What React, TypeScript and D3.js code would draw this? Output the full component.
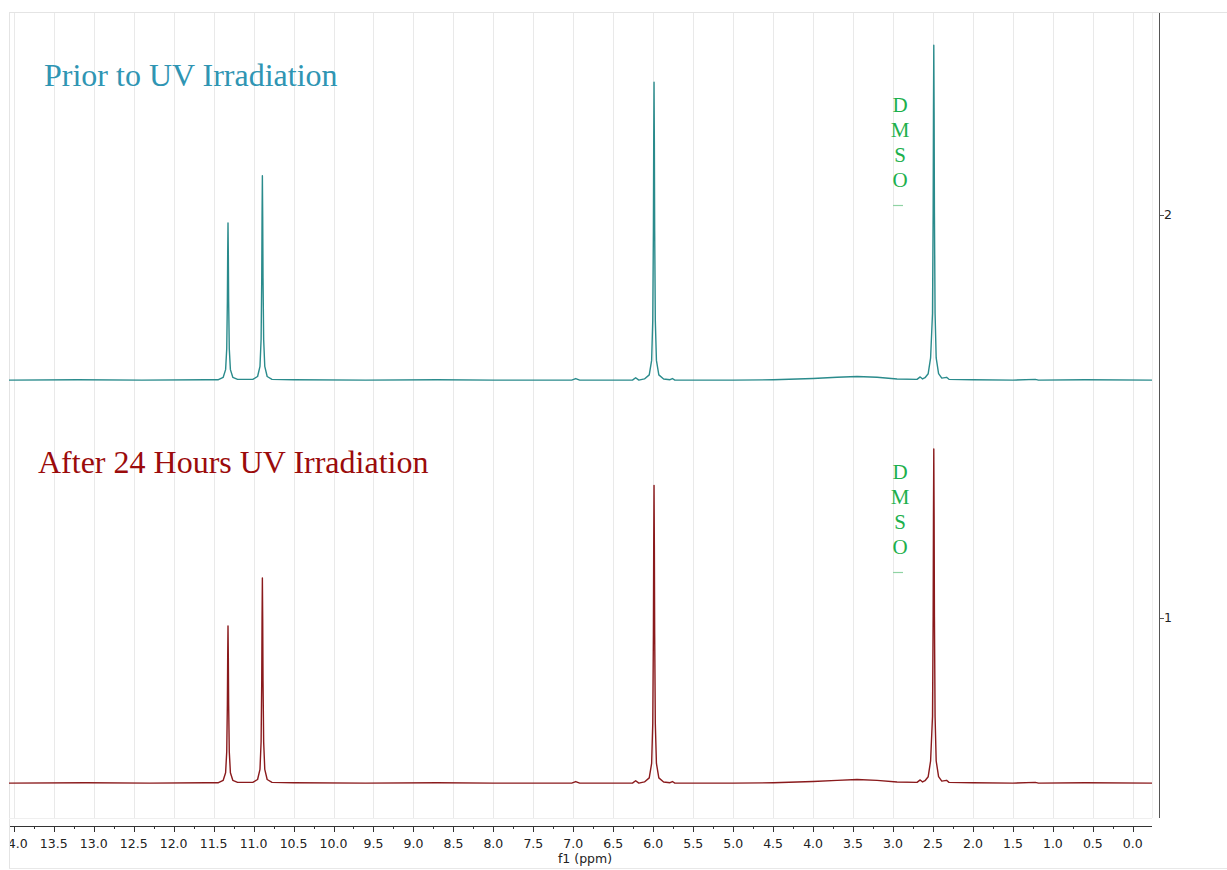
import React from "react";
import * as d3 from "d3";

// ---------- data ----------
const ppmTicks: number[] = [14, 13.5, 13, 12.5, 12, 11.5, 11, 10.5, 10, 9.5, 9, 8.5, 8, 7.5, 7, 6.5, 6, 5.5, 5, 4.5, 4, 3.5, 3, 2.5, 2, 1.5, 1, 0.5, 0];
const ppmMinorTicks: number[] = [13.75, 13.25, 12.75, 12.25, 11.75, 11.25, 10.75, 10.25, 9.75, 9.25, 8.75, 8.25, 7.75, 7.25, 6.75, 6.25, 5.75, 5.25, 4.75, 4.25, 3.75, 3.25, 2.75, 2.25, 1.75, 1.25, 0.75, 0.25];
const intensityTicks: number[] = [1, 2];
const seriesNames: string[] = ["Prior to UV Irradiation", "After 24 Hours UV Irradiation"];
const seriesOffsets: number[] = [1.59, 0.59];

// [ppm, intensity above own baseline]
const priorSpectrum: [number, number][] = [
  [14.06, 0.0], [13.2, 0.001], [12.4, 0.0], [11.6, 0.001], [11.44, 0.001],
  [11.38, 0.007], [11.35, 0.026], [11.336, 0.078], [11.328, 0.195], [11.324, 0.312],
  [11.32, 0.39], [11.316, 0.312], [11.312, 0.195], [11.304, 0.078], [11.29, 0.026],
  [11.26, 0.007], [11.2, 0.002], [11.01, 0.002], [10.95, 0.009], [10.92, 0.034],
  [10.906, 0.101], [10.898, 0.254], [10.894, 0.406], [10.89, 0.507], [10.886, 0.406],
  [10.882, 0.254], [10.874, 0.101], [10.86, 0.034], [10.83, 0.009], [10.77, 0.002],
  [10.5, 0.001], [9.6, 0.0], [8.7, 0.001], [8.0, 0.0], [7.02, 0.0], [6.97, 0.004],
  [6.92, 0.0], [6.26, 0.0], [6.22, 0.006], [6.18, 0.0], [6.11, 0.003], [6.05, 0.013],
  [6.02, 0.049], [6.006, 0.148], [5.998, 0.37], [5.994, 0.591], [5.99, 0.739],
  [5.986, 0.591], [5.982, 0.37], [5.974, 0.148], [5.96, 0.049], [5.93, 0.013],
  [5.87, 0.003], [5.79, 0.001], [5.76, 0.004], [5.73, 0.0], [5.0, 0.0], [4.5, 0.001],
  [4.0, 0.004], [3.7, 0.007], [3.45, 0.009], [3.2, 0.007], [2.95, 0.003], [2.7, 0.002],
  [2.66, 0.008], [2.63, 0.003], [2.6, 0.006], [2.56, 0.016], [2.53, 0.055],
  [2.506, 0.166], [2.498, 0.415], [2.494, 0.664], [2.49, 0.831], [2.486, 0.664],
  [2.482, 0.415], [2.474, 0.166], [2.46, 0.055], [2.43, 0.016], [2.39, 0.005],
  [2.33, 0.007], [2.3, 0.002], [2.0, 0.001], [1.5, 0.0], [1.22, 0.002], [1.18, 0.0],
  [0.6, 0.001], [-0.24, 0.0],
];

const afterSpectrum: [number, number][] = [
  [14.06, 0.0], [13.1, 0.001], [12.3, 0.0], [11.6, 0.001], [11.44, 0.001],
  [11.38, 0.007], [11.35, 0.026], [11.336, 0.078], [11.328, 0.195], [11.324, 0.312],
  [11.32, 0.39], [11.316, 0.312], [11.312, 0.195], [11.304, 0.078], [11.29, 0.026],
  [11.26, 0.007], [11.2, 0.002], [11.01, 0.002], [10.95, 0.009], [10.92, 0.034],
  [10.906, 0.102], [10.898, 0.255], [10.894, 0.408], [10.89, 0.509], [10.886, 0.408],
  [10.882, 0.255], [10.874, 0.102], [10.86, 0.034], [10.83, 0.009], [10.77, 0.002],
  [10.5, 0.001], [9.6, 0.0], [8.7, 0.001], [8.0, 0.0], [7.02, 0.0], [6.97, 0.004],
  [6.92, 0.0], [6.26, 0.0], [6.22, 0.006], [6.18, 0.0], [6.11, 0.003], [6.05, 0.013],
  [6.02, 0.049], [6.006, 0.148], [5.998, 0.37], [5.994, 0.591], [5.99, 0.739],
  [5.986, 0.591], [5.982, 0.37], [5.974, 0.148], [5.96, 0.049], [5.93, 0.013],
  [5.87, 0.003], [5.79, 0.001], [5.76, 0.004], [5.73, 0.0], [5.0, 0.0], [4.5, 0.001],
  [4.0, 0.004], [3.7, 0.007], [3.45, 0.009], [3.2, 0.007], [2.95, 0.003], [2.7, 0.002],
  [2.66, 0.008], [2.63, 0.003], [2.6, 0.006], [2.56, 0.016], [2.53, 0.055],
  [2.506, 0.166], [2.498, 0.414], [2.494, 0.663], [2.49, 0.829], [2.486, 0.663],
  [2.482, 0.414], [2.474, 0.166], [2.46, 0.055], [2.43, 0.016], [2.39, 0.005],
  [2.33, 0.007], [2.3, 0.002], [2.0, 0.001], [1.5, 0.0], [1.22, 0.002], [1.18, 0.0],
  [0.6, 0.001], [-0.24, 0.0],
];

const dmsoLetters: string[] = ["D", "M", "S", "O"];

// ---------- layout ----------
const W = 1227;
const H = 870;
const plotLeft = 9;
const plotRight = 1152;
const plotTop = 13;
const plotBottom = 818;
const axisY = 826;
const rightAxisX = 1159;

const x = d3.scaleLinear().domain([14.06, -0.24]).range([plotLeft, plotRight]);
const y = d3.scaleLinear().domain([0.506, 2.501]).range([plotBottom - 1, plotTop]);

const colors = ["#2a8b8c", "#8a1a1c"];
const titleColors = ["#2f95b3", "#9b0b0b"];
const dmsoColor = "#1db04c";

function makePath(data: [number, number][], offset: number): string {
  const line = d3
    .line<[number, number]>()
    .x((d) => x(d[0]))
    .y((d) => y(d[1] + offset));
  return line(data) || "";
}

const spectra = [priorSpectrum, afterSpectrum];
const titlePos = [
  { x: 44, y: 86 },
  { x: 38, y: 473 },
];
const dmsoTop = [112, 479];

export default function App() {
  return (
    <svg
      width={W}
      height={H}
      style={{ position: "absolute", left: 0, top: 0, background: "#fff" }}
      xmlns="http://www.w3.org/2000/svg"
    >
      <defs>
        <clipPath id="frameClip">
          <rect x={plotLeft + 1} y={0} width={W - plotLeft} height={H} />
        </clipPath>
      </defs>
      <rect x={0} y={0} width={W} height={H} fill="#fff" />
      {/* outer frame */}
      <line x1={plotLeft + 0.5} x2={plotLeft + 0.5} y1={plotTop} y2={868} stroke="#e4e4e4" />
      <line x1={plotLeft} x2={W} y1={plotTop - 0.5} y2={plotTop - 0.5} stroke="#e4e4e4" />
      <line x1={plotLeft} x2={W} y1={868.5} y2={868.5} stroke="#e8e8e8" />
      {/* grid */}
      {ppmTicks.map((t) => (
        <line
          key={"g" + t}
          x1={Math.round(x(t)) + 0.5}
          x2={Math.round(x(t)) + 0.5}
          y1={plotTop}
          y2={plotBottom}
          stroke="#e9e9e9"
          strokeWidth={1}
        />
      ))}
      <line x1={plotRight + 0.5} x2={plotRight + 0.5} y1={plotTop} y2={plotBottom} stroke="#efefef" />
      <line x1={plotLeft} x2={plotRight} y1={plotBottom + 0.5} y2={plotBottom + 0.5} stroke="#efefef" />

      {/* spectra */}
      {spectra.map((s, i) => (
        <path
          key={"s" + i}
          d={makePath(s, seriesOffsets[i])}
          fill="none"
          stroke={colors[i]}
          strokeWidth={1.4}
          strokeLinejoin="round"
        />
      ))}

      {/* titles */}
      {seriesNames.map((n, i) => (
        <text
          key={"t" + i}
          x={titlePos[i].x}
          y={titlePos[i].y}
          fontFamily="'Liberation Serif', 'Times New Roman', serif"
          fontSize={32}
          fill={titleColors[i]}
        >
          {n}
        </text>
      ))}

      {/* DMSO labels */}
      {dmsoTop.map((top, k) => (
        <g key={"d" + k}>
          {dmsoLetters.map((l, j) => (
            <text
              key={l}
              x={900}
              y={top + j * 25}
              textAnchor="middle"
              fontFamily="'Liberation Serif', 'Times New Roman', serif"
              fontSize={21}
              fill={dmsoColor}
            >
              {l}
            </text>
          ))}
          <line x1={893} x2={903} y1={top + 93.5} y2={top + 93.5} stroke="#8fd3a3" strokeWidth={1.2} />
        </g>
      ))}

      {/* x axis */}
      <g clipPath="url(#frameClip)">
        <line x1={plotLeft} x2={plotRight} y1={axisY + 0.5} y2={axisY + 0.5} stroke="#333" />
        {ppmTicks.map((t) => (
          <line
            key={"mt" + t}
            x1={Math.round(x(t)) + 0.5}
            x2={Math.round(x(t)) + 0.5}
            y1={axisY}
            y2={axisY + 6}
            stroke="#333"
          />
        ))}
        {ppmMinorTicks.map((t) => (
          <line
            key={"nt" + t}
            x1={Math.round(x(t)) + 0.5}
            x2={Math.round(x(t)) + 0.5}
            y1={axisY}
            y2={axisY + 3}
            stroke="#333"
          />
        ))}
        {ppmTicks.map((t) => (
          <text
            key={"lt" + t}
            x={x(t)}
            y={848}
            textAnchor="middle"
            fontFamily="'DejaVu Sans', Verdana, sans-serif"
            fontSize={12.5}
            fill="#222"
          >
            {t.toFixed(1)}
          </text>
        ))}
      </g>
      <text
        x={585}
        y={863}
        textAnchor="middle"
        fontFamily="'DejaVu Sans', Verdana, sans-serif"
        fontSize={12.5}
        fill="#222"
      >
        f1 (ppm)
      </text>

      {/* right axis */}
      <line x1={rightAxisX + 0.5} x2={rightAxisX + 0.5} y1={plotTop} y2={plotBottom} stroke="#555" />
      {intensityTicks.map((t) => (
        <g key={"it" + t}>
          <line
            x1={rightAxisX}
            x2={rightAxisX + 5}
            y1={Math.round(y(t)) + 0.5}
            y2={Math.round(y(t)) + 0.5}
            stroke="#555"
          />
          <text
            x={rightAxisX + 5}
            y={y(t) + 4.5}
            fontFamily="'DejaVu Sans', Verdana, sans-serif"
            fontSize={12.5}
            fill="#222"
          >
            {t}
          </text>
        </g>
      ))}
    </svg>
  );
}
